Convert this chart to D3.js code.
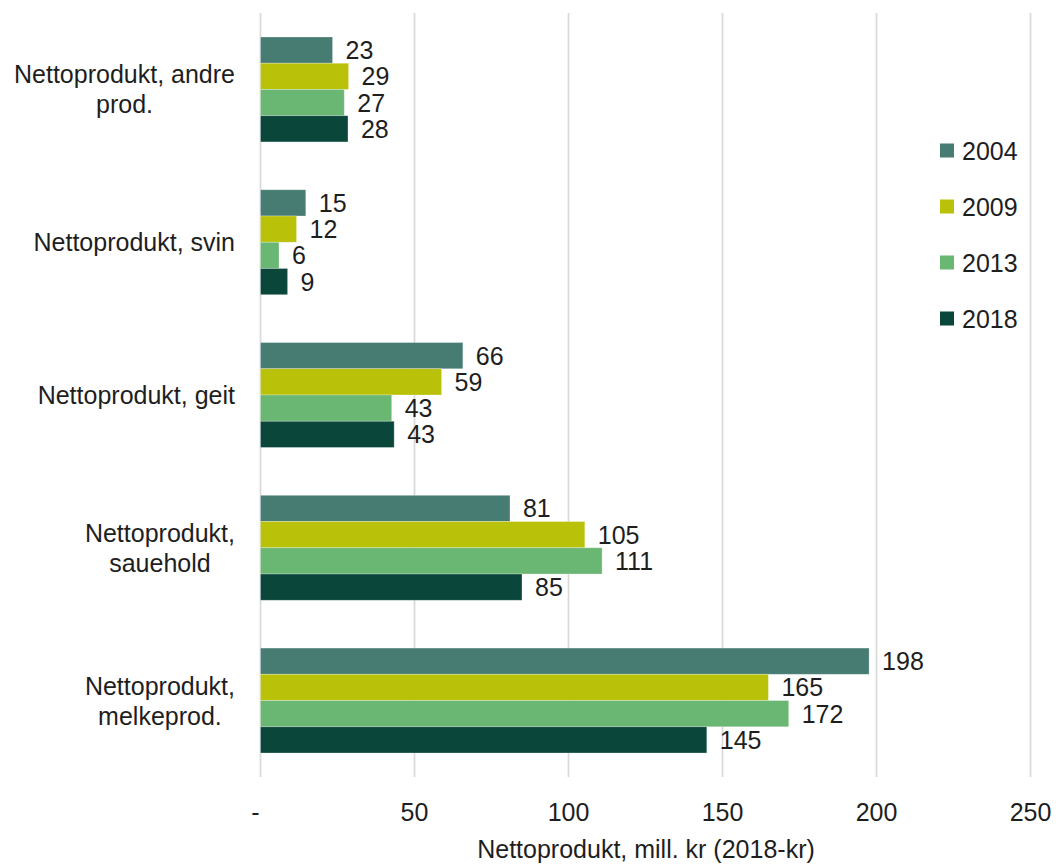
<!DOCTYPE html>
<html>
<head>
<meta charset="utf-8">
<script src="https://cdn.jsdelivr.net/npm/d3@7"></script>
<style>
  body { margin: 0; background: #fff; }
  text { font-family: "Liberation Sans", Arial, sans-serif; fill: #1e1e1e; }
</style>
</head>
<body>
<div id="chart"></div>
<script>
// Nettoprodukt per production type, mill. kr (2018-kr)
const categories = [
    "Nettoprodukt, andre prod.",
    "Nettoprodukt, svin",
    "Nettoprodukt, geit",
    "Nettoprodukt, sauehold",
    "Nettoprodukt, melkeprod."
];
// label lines as wrapped in the original
const categoryLines = [
    ["Nettoprodukt, andre", "prod."],
    ["Nettoprodukt, svin"],
    ["Nettoprodukt, geit"],
    ["Nettoprodukt,", "sauehold"],
    ["Nettoprodukt,", "melkeprod."]
];
const years = ["2004", "2009", "2013", "2018"];
const colors = ["#477c72", "#b9c108", "#69b772", "#0b463b"];

const values2004 = [23.4, 14.7, 65.7, 81.0, 197.6];
const values2009 = [28.6, 11.7, 58.8, 105.3, 164.9];
const values2013 = [27.2, 6.0, 42.6, 110.9, 171.5];
const values2018 = [28.4, 8.8, 43.4, 84.9, 144.9];

const xTicks = [0, 50, 100, 150, 200, 250];
const xTitle = "Nettoprodukt, mill. kr (2018-kr)";

const series = [values2004, values2009, values2013, values2018];

const W = 1056, H = 865;
const plot = {left: 260.5, right: 1030.5, top: 13, bottom: 777};
const fontSize = "25px";

const svg = d3.select("#chart")
    .append("svg")
    .attr("width", W)
    .attr("height", H);

const x = d3.scaleLinear()
    .domain([0, 250])
    .range([plot.left, plot.right]);

const y = d3.scaleBand()
    .domain(categories)
    .range([plot.top, plot.bottom])
    .paddingInner(0.313)
    .paddingOuter(0.157);

const ySub = d3.scaleBand()
    .domain(years)
    .range([0, y.bandwidth()]);

// Gridlines
svg.append("g")
    .selectAll("line")
    .data(xTicks)
    .enter()
    .append("line")
    .attr("x1", d => x(d))
    .attr("x2", d => x(d))
    .attr("y1", plot.top)
    .attr("y2", plot.bottom)
    .attr("stroke", "#d9d9d9")
    .attr("stroke-width", 1.75);

// Bars
const rows = [];
categories.forEach((c, i) => {
    years.forEach((yr, j) => {
        rows.push({cat: c, year: yr, value: series[j][i], color: colors[j]});
    });
});

const bars = svg.append("g");
bars.selectAll("rect")
    .data(rows)
    .enter()
    .append("rect")
    .attr("x", x(0))
    .attr("y", d => y(d.cat) + ySub(d.year))
    .attr("width", d => x(d.value) - x(0))
    .attr("height", ySub.bandwidth())
    .attr("fill", d => d.color)
    .attr("stroke", "#ffffff")
    .attr("stroke-opacity", 0.35)
    .attr("stroke-width", 0.8);

// Value labels
bars.selectAll("text")
    .data(rows)
    .enter()
    .append("text")
    .attr("x", d => x(d.value) + 13)
    .attr("y", d => y(d.cat) + ySub(d.year) + ySub.bandwidth() / 2)
    .attr("dy", "0.36em")
    .style("font-size", fontSize)
    .text(d => Math.round(d.value));

// Category labels: block right-aligned to the axis, lines centred in it
const labelRight = 235;
const lineH = 30;
categories.forEach((c, i) => {
    const lines = categoryLines[i];
    const g = svg.append("g");
    const texts = lines.map((ln, k) => g.append("text")
        .attr("y", y(c) + y.bandwidth() / 2 + (k - (lines.length - 1) / 2) * lineH)
        .attr("dy", "0.36em")
        .style("font-size", fontSize)
        .style("text-anchor", "middle")
        .text(ln));
    const maxW = d3.max(texts, t => t.node().getComputedTextLength());
    texts.forEach(t => t.attr("x", labelRight - maxW / 2));
});

// X tick labels
svg.append("g")
    .selectAll("text")
    .data(xTicks)
    .enter()
    .append("text")
    .attr("x", d => d === 0 ? x(d) - 5 : x(d))
    .attr("y", 821)
    .style("font-size", fontSize)
    .style("text-anchor", "middle")
    .text(d => d === 0 ? "-" : d);

// X axis title
svg.append("text")
    .attr("x", 646)
    .attr("y", 858)
    .style("font-size", fontSize)
    .style("text-anchor", "middle")
    .text(xTitle);

// Legend
const legend = svg.append("g")
    .selectAll("g")
    .data(years)
    .enter()
    .append("g")
    .attr("transform", (d, i) => `translate(940, ${150.5 + i * 56})`);

legend.append("rect")
    .attr("x", 0)
    .attr("y", -7)
    .attr("width", 14)
    .attr("height", 14)
    .attr("fill", (d, i) => colors[i]);

legend.append("text")
    .attr("x", 22)
    .attr("dy", "0.36em")
    .style("font-size", fontSize)
    .text(d => d);
</script>
</body>
</html>
